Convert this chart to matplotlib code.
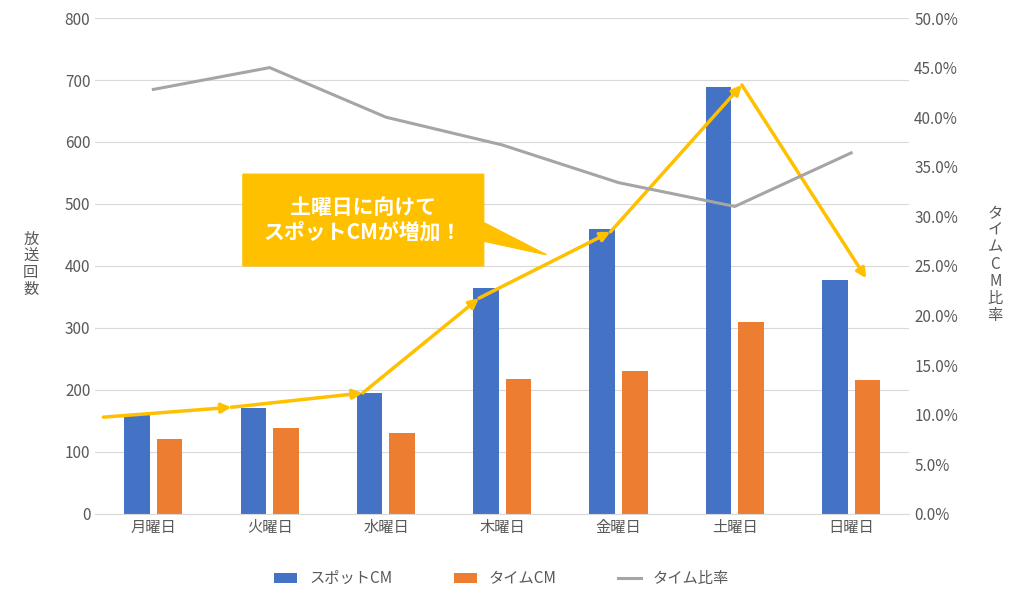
import matplotlib
matplotlib.use("Agg")
import matplotlib.pyplot as plt
from matplotlib.patches import Polygon
from matplotlib.ticker import PercentFormatter

plt.rcParams["font.family"] = "Noto Sans CJK JP"

days = ["月曜日", "火曜日", "水曜日", "木曜日", "金曜日", "土曜日", "日曜日"]
spot = [160, 170, 195, 365, 460, 688, 378]
time_cm = [120, 138, 130, 217, 231, 309, 216]
ratio = [42.8, 45.0, 40.0, 37.2, 33.4, 31.0, 36.4]

# yellow trend arrow path (annotation)
arrow_x = [-0.43, 0.67, 1.8, 2.8, 3.93, 5.06, 6.13]
arrow_y = [156, 172, 195, 348, 455, 692, 380]

fig = plt.figure(figsize=(10.24, 6.01), dpi=100)
ax = fig.add_axes([0.093, 0.145, 0.795, 0.825])
ax2 = ax.twinx()

x = list(range(len(days)))
w = 0.22
ax.bar([i - 0.14 for i in x], spot, w, color="#4472C4", label="スポットCM", zorder=2)
ax.bar([i + 0.14 for i in x], time_cm, w, color="#ED7D31", label="タイムCM", zorder=2)
ax2.plot(x, ratio, color="#A5A5A5", lw=2.2, label="タイム比率")

ax.set_ylim(0, 800)
ax.set_yticks(range(0, 801, 100))
ax.set_xlim(-0.5, 6.5)
ax.set_xticks(x)
ax.set_xticklabels(days, fontsize=11, color="#595959")
ax.grid(axis="y", color="#D9D9D9", zorder=0)
ax.set_axisbelow(True)
ax2.set_ylim(0, 50)
ax2.set_yticks(range(0, 51, 5))
ax2.yaxis.set_major_formatter(PercentFormatter(decimals=1))
for a in (ax, ax2):
    for s in a.spines.values():
        s.set_visible(False)
    a.tick_params(length=0, labelsize=11, colors="#595959")
ax.spines["bottom"].set_visible(True)
ax.spines["bottom"].set_color("#D9D9D9")

fig.text(0.03, 0.56, "放\n送\n回\n数", fontsize=11, color="#595959", va="center", ha="center", linespacing=1.0)
fig.text(0.972, 0.56, "タ\nイ\nム\nC\nM\n比\n率", fontsize=11, color="#595959", va="center", ha="center", linespacing=1.0)

# arrows
for i in range(len(arrow_x) - 1):
    ax.annotate("", xy=(arrow_x[i + 1], arrow_y[i + 1]), xytext=(arrow_x[i], arrow_y[i]),
                arrowprops=dict(arrowstyle="-|>", color="#FFC000", lw=2.5, mutation_scale=14,
                                shrinkA=0, shrinkB=0), zorder=5)

# callout
ax.add_patch(Polygon([(0.77, 400), (2.84, 400), (2.84, 440), (3.38, 418), (2.84, 470),
                      (2.84, 548), (0.77, 548)], closed=True, color="#FFC000", zorder=6))
ax.text(1.8, 474, "土曜日に向けて\nスポットCMが増加！", color="white", fontsize=15,
        fontweight="bold", ha="center", va="center", zorder=7, linespacing=1.2)

h1, l1 = ax.get_legend_handles_labels()
h2, l2 = ax2.get_legend_handles_labels()
fig.legend(h1 + h2, l1 + l2, loc="lower center", bbox_to_anchor=(0.49, 0.0), ncol=3,
           frameon=False, fontsize=11, labelcolor="#595959", handlelength=1.5, columnspacing=4)

fig.savefig("out.png")
